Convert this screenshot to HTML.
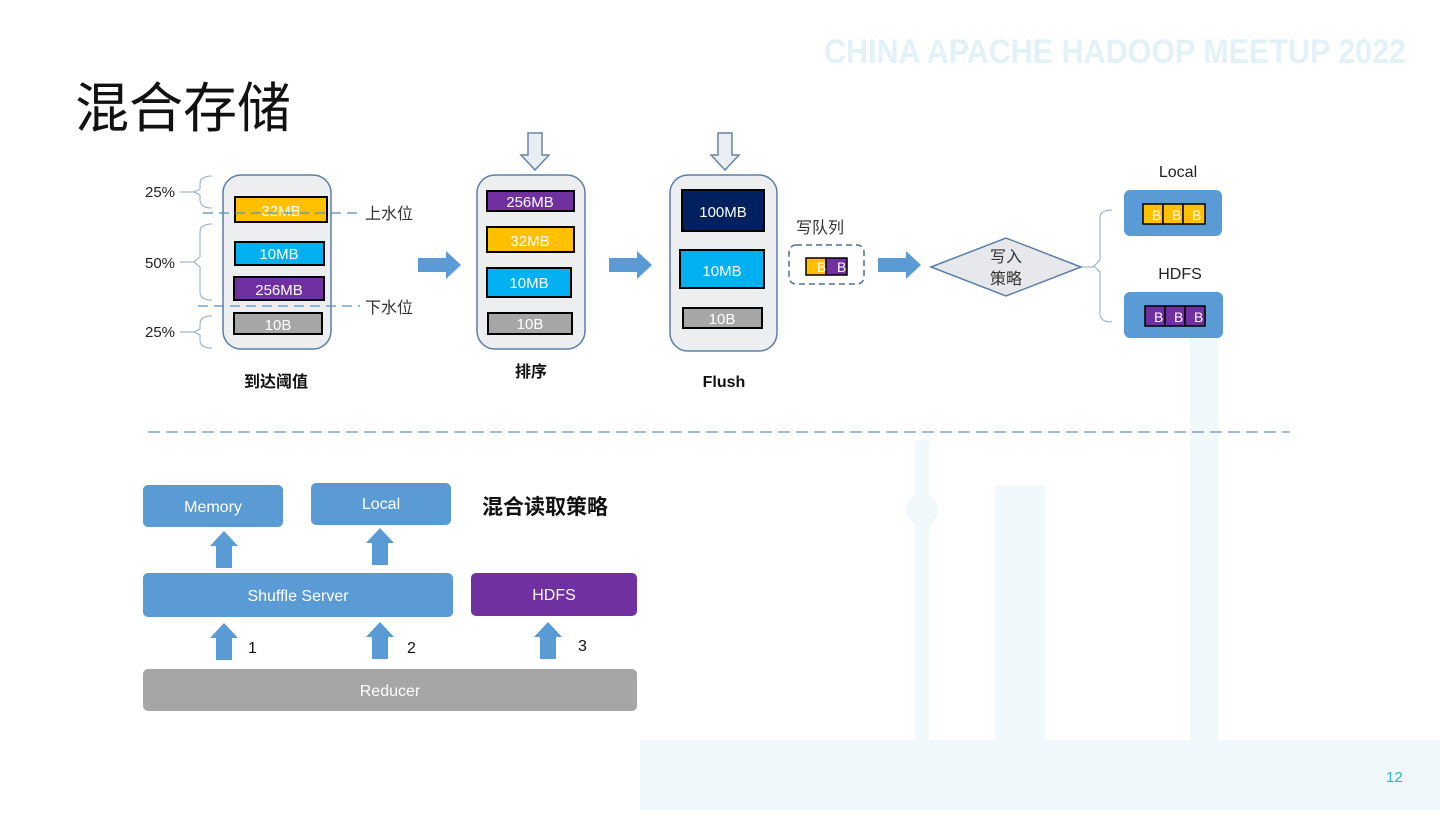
<!DOCTYPE html>
<html><head><meta charset="utf-8"><style>
body{margin:0;width:1440px;height:810px;overflow:hidden;background:#fff;font-family:"Liberation Sans","Noto Sans CJK SC",sans-serif}
</style></head><body>
<svg width="1440" height="810" xmlns="http://www.w3.org/2000/svg" font-family="Liberation Sans, Noto Sans CJK SC, sans-serif">
<defs>
<g id="ua"><polygon points="-8,0 8,0 8,-22 14,-22 0,-37 -14,-22 -8,-22" fill="#5B9BD5"/></g>
<g id="ra"><polygon points="0,-7 28,-7 28,-14 43,0 28,14 28,7 0,7" fill="#5B9BD5"/></g>
<g id="da"><polygon points="-7,0 7,0 7,22 14,22 0,37 -14,22 -7,22" fill="#E8EEF4" stroke="#6A85A0" stroke-width="1.5"/></g>
</defs>
<!-- faint background watermark -->
<g fill="#F1F8FB">
<rect x="915" y="440" width="14" height="300"/><circle cx="922" cy="510" r="16"/><rect x="995" y="485" width="50" height="260"/>
<rect x="1190" y="330" width="28" height="420"/><rect x="640" y="740" width="800" height="70"/>
</g>
<text x="824" y="63" font-size="34" fill="#E3F2F7" font-weight="bold" textLength="582" lengthAdjust="spacingAndGlyphs">CHINA APACHE HADOOP MEETUP 2022</text>
<text x="75" y="127" font-size="54" fill="#111">混合存储</text>

<!-- brackets -->
<g fill="none" stroke="#8EAACC" stroke-width="1">
<path d="M212,176 q-12,0 -12,8 v5 l-6,3 l6,3 v5 q0,8 12,8"/>
<path d="M212,224 q-12,0 -12,8 v25 l-6,5 l6,5 v25 q0,8 12,8"/>
<path d="M212,316 q-12,0 -12,8 v5 l-6,3 l6,3 v5 q0,8 12,8"/>
<path d="M1112,210 q-12,0 -12,8 v42 l-6,6 l6,6 v42 q0,8 12,8"/>
<line x1="180" y1="192" x2="194" y2="192"/><line x1="180" y1="262" x2="194" y2="262"/><line x1="180" y1="332" x2="194" y2="332"/>
<line x1="1082" y1="267" x2="1094" y2="267"/>
</g>
<g font-size="15" fill="#222"><text x="145" y="197">25%</text><text x="145" y="268">50%</text><text x="145" y="337">25%</text></g>

<!-- containers -->
<g fill="#EDEEF0" stroke="#5A7EA8" stroke-width="1.5">
<rect x="223" y="175" width="108" height="174" rx="18"/>
<rect x="477" y="175" width="108" height="174" rx="18"/>
<rect x="670" y="175" width="107" height="176" rx="18"/>
</g>
<g stroke="#000" stroke-width="2" font-size="15" fill="#fff" text-anchor="middle">
<rect x="235" y="197" width="92" height="25" fill="#FFC000"/>
<rect x="235" y="242" width="89" height="23" fill="#00B0F0"/>
<rect x="234" y="277" width="90" height="23" fill="#7030A0"/>
<rect x="234" y="313" width="88" height="21" fill="#A6A6A6"/>
<rect x="487" y="191" width="87" height="20" fill="#7030A0"/>
<rect x="487" y="227" width="87" height="25" fill="#FFC000"/>
<rect x="487" y="268" width="84" height="29" fill="#00B0F0"/>
<rect x="488" y="313" width="84" height="21" fill="#A6A6A6"/>
<rect x="682" y="190" width="82" height="41" fill="#002060"/>
<rect x="680" y="250" width="84" height="38" fill="#00B0F0"/>
<rect x="683" y="308" width="79" height="20" fill="#A6A6A6"/>
</g>
<g font-size="15" fill="#fff" text-anchor="middle">
<text x="281" y="216">32MB</text><text x="279" y="259">10MB</text><text x="279" y="295">256MB</text><text x="278" y="330">10B</text>
<text x="530" y="207">256MB</text><text x="530" y="246">32MB</text><text x="529" y="288">10MB</text><text x="530" y="329">10B</text>
<text x="723" y="217">100MB</text><text x="722" y="276">10MB</text><text x="722" y="324">10B</text>
</g>
<!-- water lines -->
<g stroke="#5B8EC0" stroke-width="1.2" stroke-dasharray="10,6"><line x1="203" y1="213" x2="360" y2="213"/><line x1="198" y1="306" x2="360" y2="306"/></g>
<g font-size="16" fill="#333"><text x="365" y="219">上水位</text><text x="365" y="313">下水位</text></g>
<g font-size="16" font-weight="bold" fill="#111" text-anchor="middle">
<text x="276" y="387">到达阈值</text><text x="531" y="377">排序</text><text x="724" y="387">Flush</text></g>

<use href="#da" x="535" y="133"/><use href="#da" x="725" y="133"/>
<use href="#ra" x="418" y="265"/><use href="#ra" x="609" y="265"/><use href="#ra" x="878" y="265"/>

<!-- queue -->
<text x="796" y="233" font-size="16" fill="#333">写队列</text>
<rect x="789" y="245" width="75" height="39" rx="7" fill="none" stroke="#4E6E92" stroke-width="1.5" stroke-dasharray="6,4"/>
<rect x="806" y="258" width="20" height="17" fill="#FFC000" stroke="#000" stroke-width="1.5"/>
<rect x="826" y="258" width="21" height="17" fill="#7030A0" stroke="#000" stroke-width="1.5"/>
<g font-size="14" fill="#fff"><text x="817" y="272">B</text><text x="837" y="272">B</text></g>

<polygon points="931,267 1006,238 1081,267 1006,296" fill="#E6E8EC" stroke="#5A7EA8" stroke-width="1.5"/>
<g font-size="16" fill="#333" text-anchor="middle"><text x="1006" y="262">写入</text><text x="1006" y="284">策略</text></g>

<g font-size="16" fill="#222" text-anchor="middle"><text x="1178" y="177">Local</text><text x="1180" y="279">HDFS</text></g>
<rect x="1124" y="190" width="98" height="46" rx="6" fill="#5B9BD5"/>
<rect x="1124" y="292" width="99" height="46" rx="6" fill="#5B9BD5"/>
<g stroke="#000" stroke-width="1.5">
<rect x="1143" y="204" width="20" height="20" fill="#FFC000"/><rect x="1163" y="204" width="20" height="20" fill="#FFC000"/><rect x="1183" y="204" width="22" height="20" fill="#FFC000"/>
<rect x="1145" y="306" width="20" height="20" fill="#7030A0"/><rect x="1165" y="306" width="20" height="20" fill="#7030A0"/><rect x="1185" y="306" width="20" height="20" fill="#7030A0"/>
</g>
<g font-size="14" fill="#fff"><text x="1152" y="220">B</text><text x="1172" y="220">B</text><text x="1192" y="220">B</text>
<text x="1154" y="322">B</text><text x="1174" y="322">B</text><text x="1194" y="322">B</text></g>

<line x1="148" y1="432" x2="1290" y2="432" stroke="#6A90BA" stroke-width="1.2" stroke-dasharray="12,6"/>

<!-- bottom -->
<rect x="143" y="485" width="140" height="42" rx="5" fill="#5B9BD5"/>
<rect x="311" y="483" width="140" height="42" rx="5" fill="#5B9BD5"/>
<rect x="143" y="573" width="310" height="44" rx="5" fill="#5B9BD5"/>
<rect x="471" y="573" width="166" height="43" rx="5" fill="#7030A0"/>
<rect x="143" y="669" width="494" height="42" rx="5" fill="#A6A6A6"/>
<g font-size="16" fill="#fff" text-anchor="middle">
<text x="213" y="512">Memory</text><text x="381" y="509">Local</text><text x="298" y="601">Shuffle Server</text><text x="554" y="600">HDFS</text><text x="390" y="696">Reducer</text></g>
<text x="482" y="514" font-size="21" font-weight="bold" fill="#111">混合读取策略</text>
<use href="#ua" x="224" y="568"/><use href="#ua" x="380" y="565"/>
<use href="#ua" x="224" y="660"/><use href="#ua" x="380" y="659"/><use href="#ua" x="548" y="659"/>
<g font-size="16" fill="#111"><text x="248" y="653">1</text><text x="407" y="653">2</text><text x="578" y="651">3</text></g>
<text x="1386" y="782" font-size="15" fill="#2AB7C9">12</text>
</svg>
</body></html>
